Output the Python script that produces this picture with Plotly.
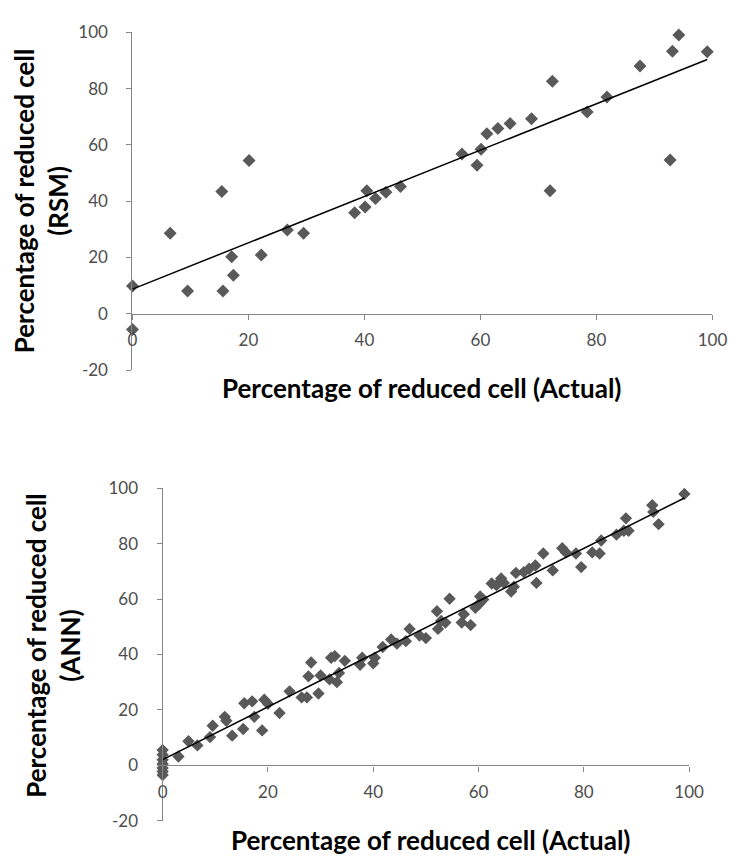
import numpy as np
import plotly.graph_objects as go

# ---- Data ----
rsm_actual = [0, 0, 6.5, 9.5, 15.4, 15.6, 17.1, 17.4, 20.1, 22.2, 26.7, 29.5, 38.3, 40.1, 40.4,
              41.9, 43.7, 46.2, 56.8, 59.4, 60.1, 61.1, 63.0, 65.1, 68.8, 72.0, 72.4, 78.4, 81.8,
              87.5, 92.7, 93.1, 94.2, 99.1]
rsm_pred = [9.9, -5.6, 28.6, 8.1, 43.5, 8.1, 20.3, 13.7, 54.5, 20.9, 29.8, 28.6, 35.9, 38.0, 43.7,
            41.0, 43.2, 45.2, 56.8, 52.8, 58.5, 64.0, 65.9, 67.6, 69.3, 43.7, 82.7, 71.7, 77.1,
            88.1, 54.7, 93.3, 99.1, 93.1]

ann_actual = [0, 0, 0, 0, 0, 0, 0,
              3.0, 4.9, 6.6, 9.0, 9.5, 11.8, 12.1, 13.2, 15.3, 15.5, 17.0, 17.4, 18.9, 19.3, 20.0,
              22.2, 24.1, 26.4, 27.4, 27.7, 28.2, 29.6, 30.0, 31.7, 32.0, 32.7, 33.1, 33.5, 34.6,
              37.5, 37.9, 40.0, 40.3, 41.8, 43.4, 44.5, 46.2, 46.9, 48.8, 50.0, 52.1, 52.3, 52.9,
              53.7, 54.5, 56.8, 57.2, 58.5, 59.4, 60.0, 60.3, 60.9, 62.5, 63.4, 64.3, 64.8, 66.2,
              66.7, 67.1, 68.6, 69.6, 70.8, 71.0, 72.3, 74.1, 75.9, 76.6, 78.5, 79.5, 81.6, 83.0,
              83.3, 86.2, 87.6, 88.0, 88.5, 93.0, 93.2, 94.2, 99.1]
ann_pred = [5.5, 3.8, 2.0, 0.5, -1.0, -2.2, -3.5,
            3.2, 8.7, 7.2, 10.2, 14.3, 17.5, 16.1, 10.7, 13.1, 22.4, 23.1, 17.5, 12.6, 23.7, 22.2,
            18.9, 26.7, 24.5, 24.5, 32.1, 37.1, 25.9, 32.4, 31.0, 38.8, 39.4, 30.0, 33.3, 37.7,
            36.3, 38.8, 36.8, 38.8, 42.7, 45.4, 43.9, 44.8, 49.2, 46.8, 45.9, 55.6, 49.2, 52.1,
            51.5, 60.1, 51.5, 54.5, 50.6, 56.8, 58.0, 60.9, 59.8, 65.6, 65.0, 67.4, 65.8, 62.7,
            64.4, 69.4, 69.7, 70.9, 72.1, 65.8, 76.4, 70.3, 78.3, 76.8, 76.4, 71.5, 76.8, 76.4,
            81.1, 83.2, 84.6, 89.1, 84.6, 93.8, 91.4, 87.0, 97.9]

x_ticks = [0, 20, 40, 60, 80, 100]
y_ticks = [-20, 0, 20, 40, 60, 80, 100]
x_title = "Percentage of reduced cell (Actual)"
y_title_rsm = "Percentage of reduced cell<br>(RSM)"
y_title_ann = "Percentage of reduced cell<br>(ANN)"

MARK = "#595959"
AXC = "#868686"
TICKC = "#4d4d4d"
FONT = "Lato"


def trend(xs, ys):
    k, b = np.polyfit(xs, ys, 1)
    xx = [min(xs), max(xs)]
    return xx, [k * v + b for v in xx]


fig = go.Figure()

for xs, ys, xa, ya, ms in [(rsm_actual, rsm_pred, "x", "y", 10),
                           (ann_actual, ann_pred, "x2", "y2", 9.5)]:
    fig.add_trace(go.Scatter(x=xs, y=ys, mode="markers", xaxis=xa, yaxis=ya,
                             marker=dict(symbol="diamond", size=ms, color=MARK),
                             cliponaxis=False, showlegend=False))
    tx, ty = trend(xs, ys)
    fig.add_trace(go.Scatter(x=tx, y=ty, mode="lines", xaxis=xa, yaxis=ya,
                             line=dict(color="black", width=1.5),
                             cliponaxis=False, showlegend=False))

W, H = 745, 863
# plot areas in pixels (left, right, top, bottom)
top = (131, 727, 22, 368)
bot = (162, 703, 489, 830)


def dom(box):
    l, r, t, b = box
    return [l / W, r / W], [(H - b) / H, (H - t) / H]


xd1, yd1 = dom(top)
xd2, yd2 = dom(bot)
pos1 = yd1[0] + (yd1[1] - yd1[0]) * 20 / 120
pos2 = yd2[0] + (yd2[1] - yd2[0]) * 20 / 120

tickfont = dict(family=FONT, size=17, color=TICKC)
common_x = dict(range=[0, 100], tickvals=x_ticks, ticktext=[str(v) for v in x_ticks],
                showline=True, linecolor=AXC, linewidth=1.3, ticks="outside", ticklen=5,
                tickcolor=AXC, showgrid=False, zeroline=False, tickfont=tickfont,
                ticklabelstandoff=6, fixedrange=True)
common_y = dict(range=[-20, 100], tickvals=y_ticks, ticktext=[str(v) for v in y_ticks],
                showline=True, linecolor=AXC, linewidth=1.3, ticks="outside", ticklen=5,
                tickcolor=AXC, showgrid=False, zeroline=False, tickfont=tickfont,
                ticklabelstandoff=15, fixedrange=True)

fig.update_layout(
    width=W, height=H,
    margin=dict(l=0, r=0, t=0, b=0),
    paper_bgcolor="white", plot_bgcolor="white",
    xaxis=dict(domain=xd1, anchor="free", position=pos1, **common_x),
    yaxis=dict(domain=yd1, anchor="x", **common_y),
    xaxis2=dict(domain=xd2, anchor="free", position=pos2, **common_x),
    yaxis2=dict(domain=yd2, anchor="x2", **common_y),
)

tfont = dict(family=FONT, size=26, color="black")
anns = [
    dict(text="<b>%s</b>" % x_title, x=428 / W, y=(H - 386) / H),
    dict(text="<b>%s</b>" % x_title, x=437 / W, y=(H - 850) / H),
    dict(text="<b>%s</b>" % y_title_rsm, x=37 / W, y=(H - 195) / H, textangle=-90),
    dict(text="<b>%s</b>" % y_title_ann, x=50 / W, y=(H - 650) / H, textangle=-90),
]
for a in anns:
    fig.add_annotation(xref="paper", yref="paper", showarrow=False, font=tfont,
                       xanchor="center", yanchor="middle", **a)

fig.write_html("out.html")
